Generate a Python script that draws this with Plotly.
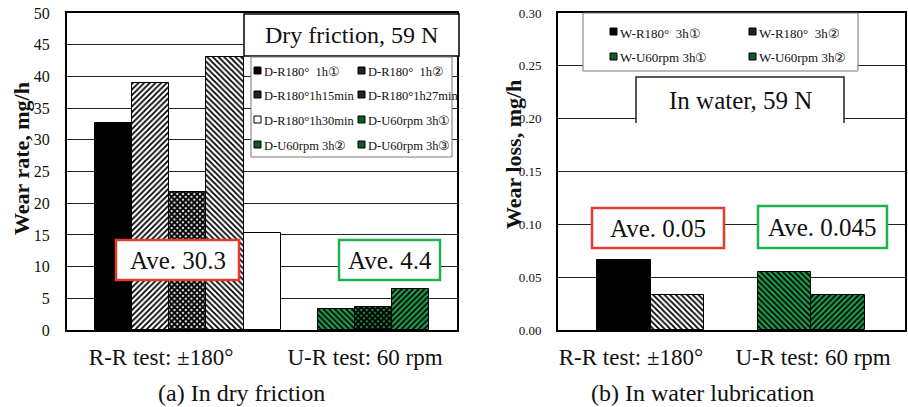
import plotly.graph_objects as go

# ---------------- data ----------------
categories = ["R-R test: ±180°", "U-R test: 60 rpm"]

dry_names = ["D-R180°\u00a0 1h①", "D-R180°\u00a0 1h②", "D-R180°1h15min", "D-R180°1h27min",
             "D-R180°1h30min", "D-U60rpm 3h①", "D-U60rpm 3h②", "D-U60rpm 3h③"]
dry_values = [32.7, 38.9, 21.7, 43.0, 15.3, 3.3, 3.6, 6.5]
dry_groups = [0, 0, 0, 0, 0, 1, 1, 1]
dry_ave = ["Ave. 30.3", "Ave. 4.4"]

wet_names = ["W-R180°\u00a0 3h①", "W-R180°\u00a0 3h②", "W-U60rpm 3h①", "W-U60rpm 3h②"]
wet_values = [0.066, 0.033, 0.055, 0.033]
wet_groups = [0, 0, 1, 1]
wet_ave = ["Ave. 0.05", "Ave. 0.045"]

dry_yticks = [0, 5, 10, 15, 20, 25, 30, 35, 40, 45, 50]
wet_yticks = [0.00, 0.05, 0.10, 0.15, 0.20, 0.25, 0.30]

# ---------------- styles ----------------
GREEN = "#1e9e4c"
FONT = "'Liberation Serif', 'Times New Roman', 'DejaVu Serif', serif"
W, H = 908, 407

def style(kind):
    # returns (bar colour, pattern shape, pattern fg, swatch colour)
    return {
        "black": ("black", "", "black", "black"),
        "hatch/": ("white", "/", "black", "#222"),
        "hatch\\": ("white", "\\", "black", "#222"),
        "check": ("white", "x", "black", "#222"),
        "white": ("white", "", "black", "white"),
        "green\\": (GREEN, "\\", "black", "#0e5a2a"),
        "greenx": (GREEN, "x", "black", "#0e5a2a"),
        "green/": (GREEN, "/", "black", "#0e5a2a"),
    }[kind]

dry_styles = ["black", "hatch/", "check", "hatch\\", "white", "green\\", "greenx", "green/"]
wet_styles = ["black", "hatch\\", "green\\", "green/"]

def slots(groups):
    pos, s, prev = [], 0, groups[0]
    for g in groups:
        if g != prev:
            s += 1
            prev = g
        pos.append(s)
        s += 1
    return pos

def px(x):
    return x / W

def py(y):
    return 1 - y / H

fig = go.Figure()

def add_bars(names, values, groups, styles, xa, ya):
    xs = slots(groups)
    for n, v, x, st in zip(names, values, xs, styles):
        col, shp, fg, _ = style(st)
        if shp == "x":
            pat = dict(shape="x", fgcolor=fg, bgcolor=col, size=4, solidity=0.75, fillmode="replace")
        else:
            pat = dict(shape=shp, fgcolor=fg, bgcolor=col, size=4, solidity=0.45, fillmode="replace")
        fig.add_trace(go.Bar(x=[x], y=[v], name=n, width=1, xaxis=xa, yaxis=ya,
                             marker=dict(color=col, pattern=pat,
                                         line=dict(color="black", width=1)),
                             showlegend=False))

add_bars(dry_names, dry_values, dry_groups, dry_styles, "x", "y")
add_bars(wet_names, wet_values, wet_groups, wet_styles, "x2", "y2")

ydom = [py(330), py(13)]
axis_common = dict(showline=True, mirror=True, linecolor="black", linewidth=2,
                   ticks="", zeroline=False, fixedrange=True, automargin=False)

fig.update_layout(
    width=W, height=H, margin=dict(l=0, r=0, t=0, b=0, autoexpand=False),
    paper_bgcolor="white", plot_bgcolor="white",
    font=dict(family=FONT, color="black"),
    bargap=0,
    xaxis=dict(domain=[px(67), px(457)], range=[-1.254, 9.246], showgrid=False,
               tickvals=[1.28, 6.77], ticktext=categories,
               tickfont=dict(size=23, family=FONT, color="#111"), ticklabelstandoff=5, **axis_common),
    yaxis=dict(domain=ydom, range=[0, 50], tickvals=dry_yticks,
               showgrid=True, gridcolor="#222", gridwidth=1,
               tickfont=dict(size=16, family=FONT, color="#111"), ticklabelstandoff=12, **axis_common),
    xaxis2=dict(domain=[px(558), px(905)], range=[-1.234, 5.247], showgrid=False,
                tickvals=[0.13, 3.53], ticktext=categories, anchor="y2",
                tickfont=dict(size=23, family=FONT, color="#111"), ticklabelstandoff=5, **axis_common),
    yaxis2=dict(domain=ydom, range=[0, 0.30], tickvals=wet_yticks, tickformat=".2f",
                anchor="x2", showgrid=True, gridcolor="#222", gridwidth=1,
                tickfont=dict(size=13, family=FONT, color="#111"), ticklabelstandoff=12, **axis_common),
)

shapes = []
annotations = []

def text(x, y, t, size, xanchor="center", angle=0):
    annotations.append(dict(xref="paper", yref="paper", x=px(x), y=py(y), text=t,
                            showarrow=False, xanchor=xanchor, yanchor="middle",
                            textangle=angle,
                            font=dict(size=size, family=FONT, color="#111")))

def box(x0, y0, x1, y1, color, width, t=None, size=24, fill="white"):
    shapes.append(dict(type="rect", xref="paper", yref="paper",
                       x0=px(x0), x1=px(x1), y0=py(y1), y1=py(y0),
                       fillcolor=fill, line=dict(color=color, width=width), layer="above"))
    if t:
        text((x0 + x1) / 2, (y0 + y1) / 2, t, size)

RED = "#e8392c"
AVEGREEN = "#1fb050"

# left panel boxes
box(244, 14, 459, 56, "black", 1.5, "Dry friction, 59 N", 24)
box(251, 57, 452, 157, "#777", 1)
box(116, 240, 239, 280, RED, 2.5, dry_ave[0], 25)
box(339, 240, 440, 280, AVEGREEN, 2.5, dry_ave[1], 25)

# right panel boxes
box(583, 13, 858, 71, "#777", 1)
shapes.append(dict(type="rect", xref="paper", yref="paper", x0=px(636), x1=px(844),
                   y0=py(123), y1=py(77), fillcolor="white", line=dict(width=0), layer="above"))
shapes.append(dict(type="path", xref="paper", yref="paper", layer="above",
                   path=f"M {px(636)},{py(123)} L {px(636)},{py(77)} L {px(844)},{py(77)} L {px(844)},{py(123)}",
                   line=dict(color="#222", width=1.5)))
text(740, 100, "In water, 59 N", 25)
box(592, 208, 724, 248, RED, 2.5, wet_ave[0], 25)
box(758, 206, 887, 248, AVEGREEN, 2.5, wet_ave[1], 25)

# manual legends
def legend(names, styles, col_x, row_y, size=12.5):
    for i, (n, st) in enumerate(zip(names, styles)):
        c, r = i % 2, i // 2
        tx, ty = col_x[c], row_y[r]
        sw = style(st)[3]
        shapes.append(dict(type="rect", xref="paper", yref="paper", layer="above",
                           x0=px(tx - 8), x1=px(tx - 1), y0=py(ty + 2), y1=py(ty - 5),
                           fillcolor=sw, line=dict(color="black", width=1)))
        text(tx, ty, n, size, xanchor="left")

legend(dry_names, dry_styles, [262, 366], [72, 96, 121, 146])
legend(wet_names, wet_styles, [618, 757], [33, 58], size=13)

# y-axis titles
text(21, 159, "<b>Wear rate, mg/h</b>", 22, angle=-90)
text(513, 155, "<b>Wear loss, mg/h</b>", 22, angle=-90)

# captions
text(241, 393, "(a) In dry friction", 24)
text(702, 393, "(b) In water lubrication", 24)

fig.update_layout(shapes=shapes, annotations=annotations)
fig.write_html("out.html", config={"displayModeBar": False},
               post_script="document.body.style.margin='0';document.body.style.padding='0';")
